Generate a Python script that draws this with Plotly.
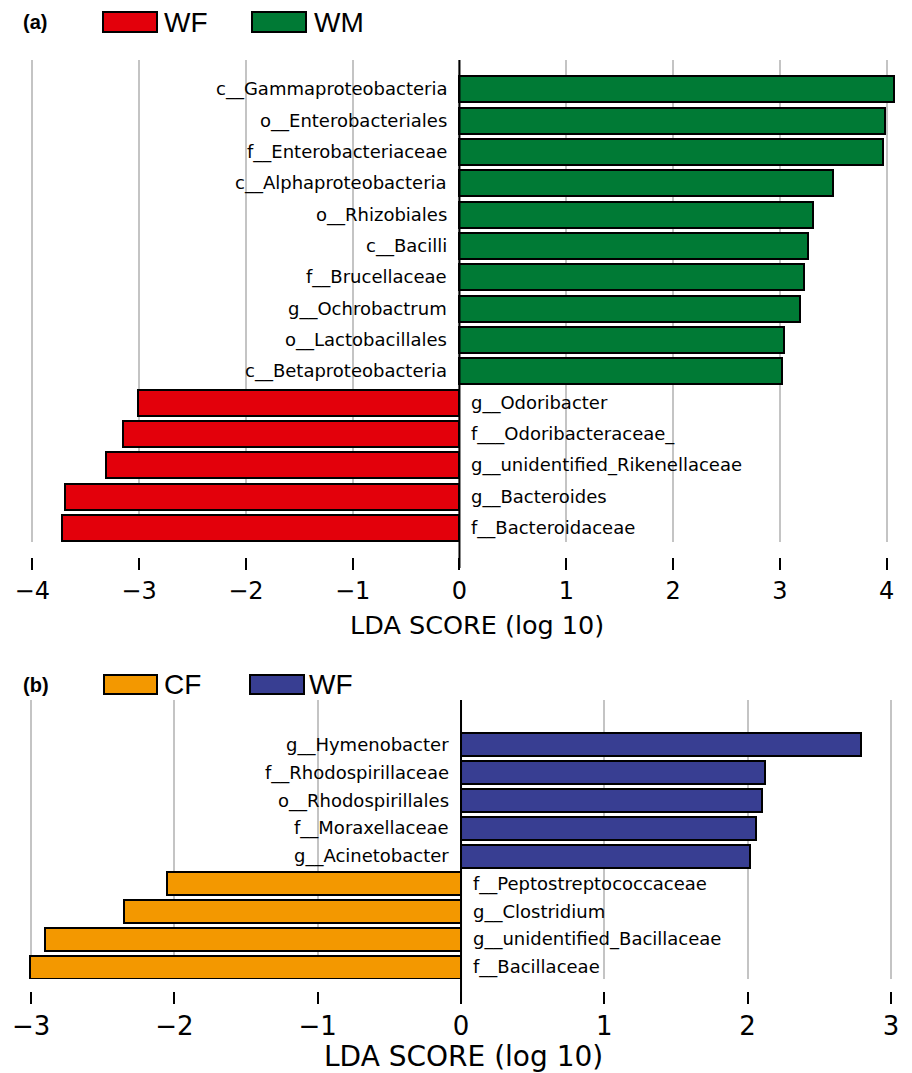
import plotly.graph_objects as go

# ---- data -------------------------------------------------------------
# panel (a): WF vs WM, listed from top to bottom
taxa_a = [
    "c__Gammaproteobacteria", "o__Enterobacteriales", "f__Enterobacteriaceae",
    "c__Alphaproteobacteria", "o__Rhizobiales", "c__Bacilli", "f__Brucellaceae",
    "g__Ochrobactrum", "o__Lactobacillales", "c__Betaproteobacteria",
    "g__Odoribacter", "f___Odoribacteraceae_", "g__unidentified_Rikenellaceae",
    "g__Bacteroides", "f__Bacteroidaceae",
]
lda_a = [4.07, 3.98, 3.97, 3.50, 3.31, 3.26, 3.23, 3.19, 3.04, 3.02,
         -3.01, -3.15, -3.31, -3.69, -3.72]
groups_a = ["WF", "WM"]
ticks_a = [-4, -3, -2, -1, 0, 1, 2, 3, 4]

# panel (b): CF vs WF, listed from top to bottom
taxa_b = [
    "g__Hymenobacter", "f__Rhodospirillaceae", "o__Rhodospirillales",
    "f__Moraxellaceae", "g__Acinetobacter", "f__Peptostreptococcaceae",
    "g__Clostridium", "g__unidentified_Bacillaceae", "f__Bacillaceae",
]
lda_b = [2.79, 2.12, 2.10, 2.06, 2.02, -2.05, -2.35, -2.90, -3.01]
groups_b = ["CF", "WF"]
ticks_b = [-3, -2, -1, 0, 1, 2, 3]

axis_title = "LDA SCORE (log 10)"

# ---- styling ------------------------------------------------------------
W, H = 912, 1073
colors_a = {"WF": "#e3000b", "WM": "#007a35"}
colors_b = {"CF": "#f39800", "WF": "#383e92"}
GRID = "#c4c4c4"
LABEL_FONT = "DejaVu Sans"
LEGEND_FONT = "Liberation Sans, Arial"


def px(x):
    return x / W


def py(y):
    return 1 - y / H


fig = go.Figure()
shapes = []
annotations = []


def add_panel(taxa, lda, groups, colors, xa, ya, label_size):
    n = len(taxa)
    ypos = [n - 1 - i for i in range(n)]
    bar_colors = [colors[groups[1]] if v > 0 else colors[groups[0]] for v in lda]
    fig.add_trace(go.Bar(
        x=lda, y=ypos, orientation="h", width=0.83,
        marker=dict(color=bar_colors, line=dict(color="black", width=2)),
        xaxis=xa, yaxis=ya, showlegend=False, hoverinfo="skip",
    ))
    for name, v, yy in zip(taxa, lda, ypos):
        annotations.append(dict(
            x=0, y=yy, xref=xa, yref=ya, text=name, showarrow=False,
            xanchor="right" if v > 0 else "left",
            xshift=-10 if v > 0 else 10, yanchor="middle",
            font=dict(family=LABEL_FONT, size=label_size, color="black"),
        ))


add_panel(taxa_a, lda_a, groups_a, colors_a, "x", "y", 18)
add_panel(taxa_b, lda_b, groups_b, colors_b, "x2", "y2", 18)

# zero reference lines, running down through the tick at 0
shapes.append(dict(type="line", xref="x", yref="paper", x0=0, x1=0,
                   y0=py(568), y1=py(60), line=dict(color="black", width=2),
                   layer="above"))
shapes.append(dict(type="line", xref="x2", yref="paper", x0=0, x1=0,
                   y0=py(1003), y1=py(700), line=dict(color="black", width=2),
                   layer="above"))


# legends drawn as boxes with text beside them
def add_legend(tag, groups, colors, y_top, y_bot, boxes, text_x, text_size):
    yc = (y_top + y_bot) / 2
    annotations.append(dict(
        x=px(21), y=py(yc), xref="paper", yref="paper", text="<b>" + tag + "</b>",
        showarrow=False, xanchor="left", yanchor="middle",
        font=dict(family=LEGEND_FONT, size=20, color="black"),
    ))
    for g, (x0, x1), tx in zip(groups, boxes, text_x):
        shapes.append(dict(type="rect", xref="paper", yref="paper",
                           x0=px(x0), x1=px(x1), y0=py(y_bot), y1=py(y_top),
                           fillcolor=colors[g], line=dict(color="black", width=2)))
        annotations.append(dict(
            x=px(tx), y=py(yc), xref="paper", yref="paper", text=g,
            showarrow=False, xanchor="left", yanchor="middle",
            font=dict(family=LEGEND_FONT, size=text_size, color="black"),
        ))


add_legend("(a)", groups_a, colors_a, 12, 32, [(103, 157), (252, 306)], [162, 312], 28)
add_legend("(b)", groups_b, colors_b, 675, 694, [(104, 157), (250, 304)], [162, 307], 28)

# axis titles
annotations.append(dict(x=px(477), y=py(625), xref="paper", yref="paper",
                        text=axis_title, showarrow=False, xanchor="center",
                        yanchor="middle",
                        font=dict(family=LABEL_FONT, size=25.5, color="black")))
annotations.append(dict(x=px(463), y=py(1056), xref="paper", yref="paper",
                        text=axis_title, showarrow=False, xanchor="center",
                        yanchor="middle",
                        font=dict(family=LABEL_FONT, size=28, color="black")))

common_x = dict(
    showgrid=True, gridcolor=GRID, gridwidth=2, zeroline=False, showline=False,
    ticks="outside", ticklen=12, tickwidth=2, tickcolor="black",
    tickmode="array", anchor="free", fixedrange=True,
)

fig.update_layout(
    width=W, height=H, margin=dict(l=0, r=0, t=0, b=0),
    paper_bgcolor="white", plot_bgcolor="white", bargap=0,
    xaxis=dict(domain=[0, 1], range=[-4.302, 4.237], position=py(557),
               tickvals=ticks_a, tickfont=dict(family=LABEL_FONT, size=24, color="black"),
               **common_x),
    yaxis=dict(domain=[py(542), py(60)], range=[-0.447, 14.94], visible=False,
               anchor="x"),
    xaxis2=dict(domain=[0, 1], range=[-3.217, 3.147], position=py(991),
                tickvals=ticks_b, tickfont=dict(family=LABEL_FONT, size=26, color="black"),
                **common_x),
    yaxis2=dict(domain=[py(979), py(700)], range=[-0.43, 9.62], visible=False,
                anchor="x2"),
    shapes=shapes,
    annotations=annotations,
)

fig.write_html("out.html")
